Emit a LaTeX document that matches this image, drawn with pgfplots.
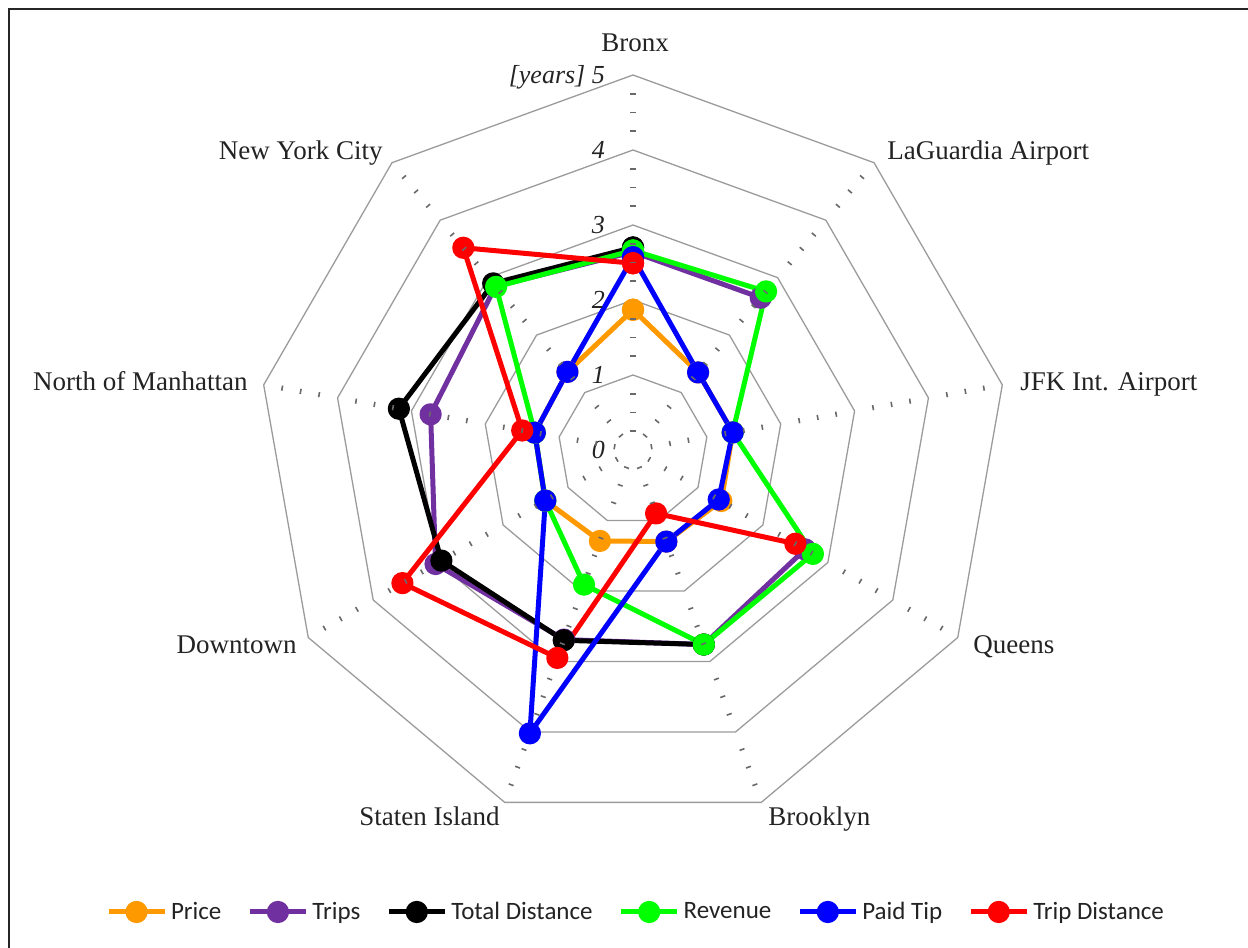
\documentclass[border=0pt]{standalone}
\usepackage{fontspec}
\setmainfont{Liberation Serif}
\newfontfamily\legfont{Carlito}
\usepackage{pgfplots}
\pgfplotsset{compat=1.18}
\usepackage{pgfplotstable}

\definecolor{cPrice}{RGB}{255,153,0}
\definecolor{cTrips}{RGB}{112,48,160}
\definecolor{cTot}{RGB}{0,0,0}
\definecolor{cRev}{RGB}{0,255,0}
\definecolor{cTip}{RGB}{0,0,255}
\definecolor{cDist}{RGB}{255,0,0}
\definecolor{gridc}{RGB}{155,155,155}
\definecolor{tickc}{RGB}{105,105,105}
\definecolor{txtc}{RGB}{35,35,35}

\tikzset{rl/.style={anchor=base east, inner sep=0pt, font=\itshape\fontsize{13}{15}\selectfont, text=txtc},
         cl/.style={inner sep=0pt, font=\fontsize{13.5}{16}\selectfont, text=txtc}}

\pgfplotstableread{
ang price trips total rev tip dist
90 1.87 2.64 2.70 2.66 2.57 2.49
50 1.35 2.65 nan 2.76 1.35 nan
10 1.35 nan nan 1.35 1.35 nan
-30 1.36 2.65 nan 2.77 1.32 2.50
-70 1.30 2.76 2.76 2.76 1.30 0.90
-110 1.29 2.69 2.70 1.91 4.02 2.95
-150 1.35 3.04 2.95 1.35 1.35 3.55
-190 1.33 2.74 3.17 1.33 1.33 1.50
-230 1.36 2.85 2.90 2.84 1.36 3.52
-270 1.87 2.64 2.70 2.66 2.57 2.49
}\data

\begin{document}
\begin{tikzpicture}
\begin{axis}[
  x=37.5pt, y=37.5pt,
  xmin=-8.44, xmax=8.2, ymin=-6.64, ymax=6.0,
  hide axis, clip=false,
  unbounded coords=jump,
  legend columns=6,
  legend style={at={(0.5104,0.038)}, anchor=center, draw=none, fill=none,
    font=\legfont\fontsize{12.5}{14}\selectfont, text=txtc,
    /tikz/every even column/.append style={column sep=11pt},
    inner sep=0pt, cells={anchor=west}},
  legend image code/.code={\draw[mark repeat=2,mark phase=2,#1] plot coordinates {(0pt,0pt) (14pt,0pt) (28pt,0pt)};},
  every axis plot/.append style={line width=2.5pt, line join=round, mark size=4.3pt},
]
% grid polygons
\pgfplotsinvokeforeach{1,2,3,4,5}{
  \addplot[gridc, line width=0.65pt, line join=miter, data cs=polar, forget plot, mark=none]
    coordinates {(90,#1)(50,#1)(10,#1)(-30,#1)(-70,#1)(-110,#1)(-150,#1)(170,#1)(130,#1)(90,#1)(50,#1)};
}
% data series
\addplot[cPrice, mark=*, data cs=polar, forget plot] table[x=ang,y=price]{\data};
\addplot[cTrips, mark=*, data cs=polar, forget plot] table[x=ang,y=trips]{\data};
\addplot[cTot, mark=*, data cs=polar, forget plot] table[x=ang,y=total]{\data};
\addplot[cRev, mark=*, data cs=polar, forget plot] table[x=ang,y=rev]{\data};
\addplot[cTip, mark=*, data cs=polar, forget plot] table[x=ang,y=tip]{\data};
\addplot[cDist, mark=*, data cs=polar, forget plot] table[x=ang,y=dist]{\data};
% spoke tick marks
\pgfplotsinvokeforeach{90,50,10,-30,-70,-110,-150,170,130}{
  \addplot[only marks, mark=-, mark size=1.3pt, mark options={rotate=#1+90, line width=0.8pt, tickc}, data cs=polar, forget plot]
    coordinates {(#1,0.25)(#1,0.5)(#1,0.75)(#1,1.25)(#1,1.5)(#1,1.75)(#1,2.25)(#1,2.5)(#1,2.75)(#1,3.25)(#1,3.5)(#1,3.75)(#1,4.25)(#1,4.5)(#1,4.75)};
}
% legend
\addlegendimage{cPrice, line width=2.5pt, mark=*, mark size=4.3pt}
\addlegendentry{Price}
\addlegendimage{cTrips, line width=2.5pt, mark=*, mark size=4.3pt}
\addlegendentry{Trips}
\addlegendimage{cTot, line width=2.5pt, mark=*, mark size=4.3pt}
\addlegendentry{Total Distance}
\addlegendimage{cRev, line width=2.5pt, mark=*, mark size=4.3pt}
\addlegendentry{Revenue}
\addlegendimage{cTip, line width=2.5pt, mark=*, mark size=4.3pt}
\addlegendentry{Paid Tip}
\addlegendimage{cDist, line width=2.5pt, mark=*, mark size=4.3pt}
\addlegendentry{Trip Distance}
% radial tick labels
\node[rl] at (axis cs:-0.37,-0.117) {0};
\node[rl] at (axis cs:-0.37,0.883) {1};
\node[rl] at (axis cs:-0.37,1.883) {2};
\node[rl] at (axis cs:-0.37,2.883) {3};
\node[rl] at (axis cs:-0.37,3.883) {4};
\node[rl] at (axis cs:-0.37,4.883) {[years] 5};
% category labels
\node[cl, anchor=base] at (axis cs:0.027,5.307) {Bronx};
\node[cl, anchor=base west] at (axis cs:3.387,3.867) {LaGuardia Airport};
\node[cl, anchor=base west] at (axis cs:5.16,0.787) {JFK Int. Airport};
\node[cl, anchor=base west] at (axis cs:4.533,-2.707) {Queens};
\node[cl, anchor=base west] at (axis cs:1.8,-5.013) {Brooklyn};
\node[cl, anchor=base east] at (axis cs:-1.773,-5.013) {Staten Island};
\node[cl, anchor=base east] at (axis cs:-4.48,-2.707) {Downtown};
\node[cl, anchor=base east] at (axis cs:-5.133,0.787) {North of Manhattan};
\node[cl, anchor=base east] at (axis cs:-3.333,3.867) {New York City};
% frame
\draw[line width=0.7pt, black!85] (axis cs:-8.32,-7.5) -- (axis cs:-8.32,5.88) -- (axis cs:9,5.88);
\end{axis}
\pgfresetboundingbox
\path[use as bounding box] (current axis.south west) rectangle (current axis.north east);
\end{tikzpicture}
\end{document}
